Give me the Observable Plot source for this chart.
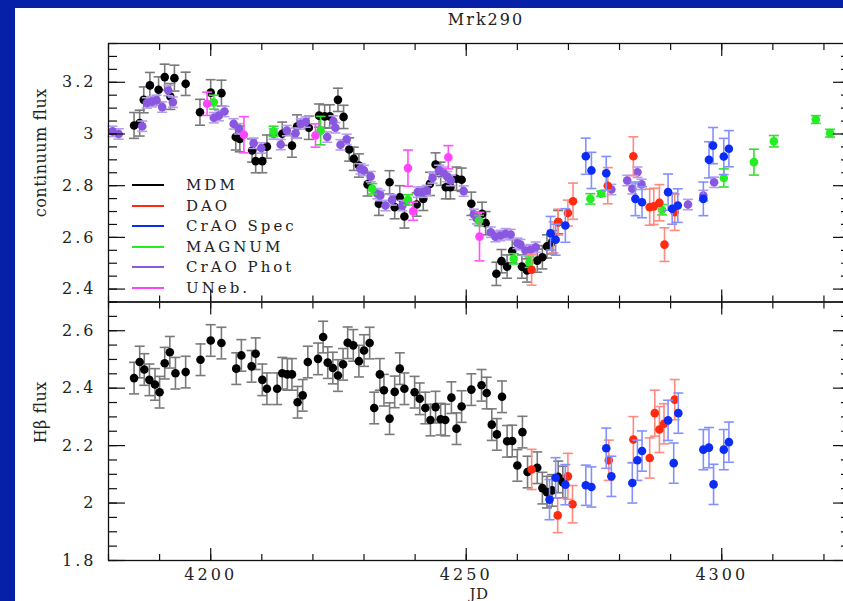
<!DOCTYPE html>
<html><head><meta charset="utf-8">
<script src="https://cdn.jsdelivr.net/npm/d3@7"></script>
<script src="https://cdn.jsdelivr.net/npm/@observablehq/plot@0.6"></script>
<style>
html,body{margin:0;padding:0;overflow:hidden;background:#0620a8;width:843px;height:601px;}
#panel{position:absolute;left:15px;top:8px;width:828px;height:593px;background:#fff;overflow:hidden;}
#panel svg{position:absolute;left:0;}
.t{position:absolute;font-family:"DejaVu Serif",serif;color:#222;white-space:nowrap;}
#title{left:0;width:942px;text-align:center;top:2px;font-size:16px;letter-spacing:2px;}
.leg{position:absolute;font-family:"DejaVu Serif",serif;font-size:15px;letter-spacing:3px;color:#222;white-space:nowrap;line-height:16px;}
.ln{position:absolute;width:32px;height:2px;}
</style></head><body>
<div id="panel"><div id="title" class="t">Mrk290</div></div>
<script>
// ---------- data: [JD, flux, error] ----------
const mdmCont = [[4185.0,3.033,0.05],[4186.1,3.042,0.05],[4186.9,3.132,0.05],[4188.1,3.188,0.05],[4189.8,3.171,0.05],[4191.0,3.22,0.05],[4192.1,3.145,0.05],[4192.9,3.216,0.05],[4195.1,3.194,0.045],[4197.9,3.084,0.05],[4200.0,3.16,0.05],[4202.1,3.158,0.05],[4204.9,2.988,0.05],[4205.7,2.981,0.05],[4208.1,2.936,0.045],[4208.8,2.895,0.045],[4210.1,2.895,0.045],[4211.0,2.951,0.045],[4214.0,3.001,0.045],[4215.9,2.955,0.045],[4216.9,3.029,0.045],[4219.2,3.024,0.045],[4221.2,3.071,0.045],[4222.3,3.068,0.045],[4223.3,3.068,0.045],[4224.9,3.132,0.045],[4226.0,3.066,0.045],[4227.1,2.94,0.045],[4228.0,2.904,0.045],[4229.0,2.878,0.045],[4230.7,2.805,0.045],[4232.9,2.73,0.045],[4235.0,2.813,0.045],[4236.0,2.717,0.045],[4237.0,2.755,0.045],[4237.9,2.681,0.045],[4240.3,2.727,0.045],[4241.6,2.749,0.045],[4242.9,2.807,0.045],[4244.0,2.882,0.045],[4245.0,2.846,0.045],[4246.0,2.794,0.045],[4246.9,2.794,0.045],[4248.1,2.827,0.045],[4249.1,2.823,0.045],[4251.0,2.73,0.045],[4253.1,2.691,0.045],[4253.8,2.655,0.045],[4255.9,2.459,0.045],[4256.9,2.508,0.045],[4258.0,2.487,0.045],[4259.0,2.547,0.045],[4260.9,2.487,0.045],[4261.9,2.472,0.045],[4263.9,2.51,0.045],[4264.9,2.523,0.045],[4265.8,2.565,0.045],[4266.8,2.581,0.045],[4268.0,2.659,0.045]];
const daoCont = [[4262.8,2.475,0.06],[4267.1,2.6,0.06],[4268.0,2.659,0.05],[4269.9,2.694,0.05],[4270.9,2.74,0.07],[4277.7,2.8,0.07],[4282.7,2.914,0.075],[4285.9,2.717,0.07],[4286.7,2.72,0.07],[4287.8,2.734,0.07],[4288.8,2.572,0.065],[4290.8,2.697,0.07]];
const craoSpecCont = [[4266.5,2.616,0.065],[4267.5,2.591,0.06],[4269.4,2.646,0.065],[4273.4,2.914,0.07],[4274.5,2.859,0.07],[4277.4,2.848,0.065],[4283.1,2.749,0.065],[4284.4,2.736,0.06],[4289.5,2.775,0.07],[4290.3,2.711,0.06],[4291.4,2.723,0.065],[4296.4,2.749,0.065],[4297.5,2.9,0.07],[4298.3,2.955,0.07],[4300.4,2.913,0.07],[4301.4,2.943,0.07]];
const magnumCont = [[4200.6,3.123,0.027],[4212.3,3.01,0.02],[4221.5,3.013,0.055],[4231.6,2.788,0.02],[4238.6,2.745,0.02],[4252.5,2.665,0.02],[4259.3,2.517,0.02],[4262.4,2.504,0.02],[4274.3,2.749,0.02],[4276.4,2.769,0.01],[4288.3,2.707,0.02],[4300.4,2.83,0.035],[4306.3,2.891,0.05],[4310.2,2.972,0.022],[4318.4,3.056,0.015],[4321.2,3.003,0.015]];
const craoPhotCont = [[4180.8,3.01,0.02],[4182.0,3.0,0.02],[4186.6,3.03,0.02],[4187.5,3.12,0.02],[4188.5,3.125,0.02],[4189.4,3.13,0.02],[4190.5,3.104,0.02],[4191.7,3.168,0.02],[4192.6,3.123,0.02],[4200.6,3.063,0.02],[4201.6,3.071,0.02],[4202.7,3.087,0.02],[4204.5,3.039,0.02],[4205.5,3.02,0.02],[4208.4,2.964,0.02],[4209.9,2.946,0.02],[4212.3,3.0,0.02],[4213.7,2.959,0.02],[4214.9,3.013,0.02],[4216.6,3.003,0.02],[4217.6,3.039,0.02],[4218.6,3.046,0.02],[4222.8,2.988,0.02],[4224.0,3.05,0.02],[4224.4,3.024,0.02],[4225.4,2.958,0.02],[4226.6,2.979,0.02],[4229.3,2.865,0.02],[4230.0,2.859,0.02],[4231.3,2.835,0.02],[4232.6,2.769,0.02],[4233.2,2.762,0.02],[4234.2,2.723,0.02],[4235.5,2.745,0.02],[4237.5,2.723,0.02],[4240.5,2.775,0.02],[4241.4,2.775,0.02],[4242.3,2.781,0.02],[4243.4,2.83,0.02],[4244.7,2.859,0.02],[4245.5,2.852,0.02],[4246.3,2.835,0.02],[4247.0,2.82,0.02],[4249.5,2.779,0.02],[4251.5,2.689,0.02],[4252.1,2.672,0.02],[4254.8,2.62,0.02],[4255.7,2.603,0.02],[4256.7,2.607,0.02],[4257.7,2.614,0.02],[4258.7,2.611,0.02],[4260.0,2.577,0.02],[4260.6,2.572,0.02],[4261.6,2.549,0.02],[4262.6,2.552,0.02],[4263.6,2.562,0.02],[4278.4,2.785,0.02],[4281.5,2.82,0.02],[4282.5,2.788,0.02],[4283.5,2.852,0.02],[4284.3,2.805,0.02],[4293.4,2.727,0.02],[4296.4,2.762,0.02],[4298.5,2.813,0.02]];
const unebCont = [[4199.3,3.117,0.045],[4206.5,2.997,0.07],[4220.5,2.994,0.045],[4238.6,2.868,0.07],[4239.6,2.701,0.035],[4246.5,2.91,0.045],[4252.6,2.603,0.094]];

const mdmHb = [[4185.0,2.435,0.055],[4186.1,2.491,0.055],[4187.0,2.465,0.055],[4188.0,2.429,0.055],[4189.1,2.413,0.055],[4190.0,2.386,0.055],[4191.0,2.487,0.055],[4192.0,2.525,0.055],[4193.1,2.452,0.055],[4195.1,2.456,0.055],[4198.0,2.499,0.055],[4200.0,2.566,0.055],[4202.1,2.557,0.055],[4205.0,2.468,0.055],[4206.0,2.514,0.055],[4208.0,2.476,0.055],[4208.8,2.52,0.055],[4210.1,2.429,0.055],[4211.0,2.398,0.055],[4213.0,2.398,0.055],[4214.0,2.452,0.055],[4215.0,2.448,0.055],[4215.9,2.448,0.055],[4217.0,2.351,0.055],[4218.0,2.375,0.055],[4219.0,2.491,0.055],[4221.0,2.502,0.055],[4222.0,2.578,0.055],[4222.9,2.489,0.055],[4223.9,2.47,0.055],[4224.9,2.444,0.055],[4225.9,2.483,0.055],[4226.8,2.558,0.055],[4227.9,2.549,0.055],[4229.0,2.494,0.055],[4230.0,2.531,0.055],[4231.1,2.557,0.055],[4232.0,2.331,0.055],[4233.1,2.448,0.055],[4233.9,2.393,0.055],[4235.0,2.294,0.055],[4236.0,2.387,0.055],[4237.0,2.468,0.055],[4237.9,2.398,0.055],[4239.9,2.386,0.055],[4240.9,2.363,0.055],[4242.0,2.331,0.055],[4243.0,2.289,0.055],[4244.0,2.334,0.055],[4245.0,2.292,0.055],[4245.9,2.289,0.055],[4247.1,2.367,0.055],[4248.1,2.259,0.055],[4249.1,2.336,0.055],[4251.0,2.395,0.055],[4253.0,2.41,0.055],[4254.0,2.383,0.055],[4255.0,2.273,0.055],[4256.0,2.239,0.055],[4257.0,2.37,0.055],[4258.0,2.215,0.055],[4259.0,2.216,0.055],[4260.0,2.131,0.055],[4261.0,2.247,0.055],[4262.0,2.108,0.055],[4263.9,2.123,0.055],[4264.9,2.052,0.055],[4265.8,2.038,0.055],[4266.8,2.044,0.055],[4268.0,2.091,0.055],[4268.9,2.073,0.055]];
const daoHb = [[4262.8,2.117,0.07],[4267.9,1.957,0.06],[4269.9,2.093,0.08],[4270.8,1.996,0.065],[4277.9,2.149,0.07],[4282.7,2.221,0.08],[4285.9,2.157,0.07],[4286.9,2.313,0.08],[4287.8,2.256,0.08],[4288.7,2.276,0.07],[4290.8,2.36,0.07]];
const craoSpecHb = [[4266.3,2.012,0.07],[4267.5,2.088,0.07],[4269.4,2.064,0.07],[4273.4,2.062,0.07],[4274.5,2.056,0.07],[4277.4,2.191,0.07],[4278.4,2.093,0.07],[4282.5,2.07,0.07],[4283.5,2.149,0.07],[4284.4,2.181,0.07],[4289.5,2.288,0.07],[4290.6,2.139,0.07],[4291.5,2.313,0.07],[4296.4,2.186,0.07],[4297.5,2.193,0.07],[4298.4,2.065,0.07],[4300.4,2.186,0.07],[4301.4,2.212,0.07]];

const legendNames = ["MDM","DAO","CrAO Spec","MAGNUM","CrAO Phot","UNeb."];
const xMajorTicks = [4200, 4250, 4300];
const contMajorTicks = [2.4, 2.6, 2.8, 3.0, 3.2];
const hbMajorTicks = [1.8, 2.0, 2.2, 2.4, 2.6];

// ---------- styling ----------
const col = {MDM:"#000000", DAO:"#ff2a10", "CrAO Spec":"#0a2cf5", MAGNUM:"#22ee22", "CrAO Phot":"#8a58e0", "UNeb.":"#ff44ff"};
const barCol = {MDM:"#7a7a7a", DAO:"#ff8a80", "CrAO Spec":"#8490ff", MAGNUM:"#30e030", "CrAO Phot":"#b49cf0", "UNeb.":"#ff50ff"};
const fontFam = "DejaVu Serif";
const xDomain = [4180, 4325];
const xMinor = d3.range(4180, 4326, 10);

const cap = {draw(ctx, size){ const w = Math.sqrt(size/Math.PI); ctx.moveTo(-w,0); ctx.lineTo(w,0); }};
function series(rows, name){
  const bc = barCol[name];
  return [
    Plot.ruleX(rows, {x: d=>d[0], y1: d=>d[1]-d[2], y2: d=>d[1]+d[2], stroke: bc, strokeWidth: 1.6}),
    Plot.dot(rows, {x: d=>d[0], y: d=>d[1]-d[2], symbol: cap, r: 5, fill: "none", stroke: bc, strokeWidth: 1.6}),
    Plot.dot(rows, {x: d=>d[0], y: d=>d[1]+d[2], symbol: cap, r: 5, fill: "none", stroke: bc, strokeWidth: 1.6}),
    Plot.dot(rows, {x: d=>d[0], y: d=>d[1], r: 4.3, fill: col[name], stroke: "none"})
  ];
}
const blank = () => "";
function ticks(yMajor, yMinor){
  const s = {stroke:"#111", strokeWidth:1.2};
  return [
    Plot.axisX({anchor:"bottom", ticks:xMajorTicks, tickSize:12, dy:-12, tickFormat:blank, label:null, ...s}),
    Plot.axisX({anchor:"bottom", ticks:xMinor, tickSize:6, dy:-6, tickFormat:blank, label:null, ...s}),
    Plot.axisX({anchor:"top", ticks:xMajorTicks, tickSize:12, dy:12, tickFormat:blank, label:null, ...s}),
    Plot.axisX({anchor:"top", ticks:xMinor, tickSize:6, dy:6, tickFormat:blank, label:null, ...s}),
    Plot.axisY({anchor:"left", ticks:yMajor, tickSize:17, dx:17, tickFormat:blank, label:null, ...s}),
    Plot.axisY({anchor:"left", ticks:yMinor, tickSize:9, dx:9, tickFormat:blank, label:null, ...s}),
    Plot.axisY({anchor:"right", ticks:yMajor, tickSize:17, dx:-17, tickFormat:blank, label:null, ...s}),
    Plot.axisY({anchor:"right", ticks:yMinor, tickSize:9, dx:-9, tickFormat:blank, label:null, ...s}),
    Plot.axisY({anchor:"left", ticks:yMajor, tickSize:0, tickPadding:12, label:null, tickFormat: d => String(d), fill:"#222"}),
    Plot.frame({stroke:"#111", strokeWidth:1.3})
  ];
}
const svgStyle = {fontFamily: fontFam, fontSize:"16px", letterSpacing:"3px", background:"transparent", maxWidth:"none", overflow:"visible"};

const topPlot = Plot.plot({
  width: 850, height: 300,
  marginLeft: 93, marginRight: 16, marginTop: 35, marginBottom: 6.5,
  style: svgStyle,
  x: {domain: xDomain, axis: null},
  y: {domain: [2.35, 3.35], axis: null},
  marks: [
    ...series(mdmCont, "MDM"),
    ...series(craoPhotCont, "CrAO Phot"),
    ...series(magnumCont, "MAGNUM"),
    ...series(daoCont, "DAO"),
    ...series(craoSpecCont, "CrAO Spec"),
    ...series(unebCont, "UNeb."),
    ...ticks(contMajorTicks, d3.range(2.35, 3.351, 0.05)),
    Plot.text(["continuum flux"], {frameAnchor:"left", textAnchor:"middle", dx:-68, dy:-20, rotate:-90, fontSize:16, fill:"#222"})
  ]
});
topPlot.style.top = "0px";

const bottomPlot = Plot.plot({
  width: 850, height: 320,
  marginLeft: 93, marginRight: 16, marginTop: 13.5, marginBottom: 48,
  style: svgStyle,
  x: {domain: xDomain, axis: null},
  y: {domain: [1.8, 2.7], axis: null},
  marks: [
    ...series(mdmHb, "MDM"),
    ...series(daoHb, "DAO"),
    ...series(craoSpecHb, "CrAO Spec"),
    ...ticks(hbMajorTicks, d3.range(1.8, 2.701, 0.05)),
    Plot.axisX({anchor:"bottom", ticks:xMajorTicks, tickSize:0, tickPadding:8, label:null, tickFormat: d => String(d), fill:"#222"}),
    Plot.text(["JD"], {frameAnchor:"bottom", dy:38, fontSize:15, fill:"#222"}),
    Plot.text(["H\u03b2 flux"], {frameAnchor:"left", textAnchor:"middle", dx:-68, dy:-19, rotate:-90, fontSize:16, fill:"#222"})
  ]
});
bottomPlot.style.top = "280px";

const panel = document.getElementById("panel");
panel.appendChild(topPlot);
panel.appendChild(bottomPlot);
// axis titles without the wide tick-label letter spacing
panel.querySelectorAll("svg text").forEach(t => {
  if (t.textContent === "continuum flux" || t.textContent === "H\u03b2 flux" || t.textContent === "JD") t.style.letterSpacing = "0.5px";
});

// legend (panel coordinates = page - (15, 8))
legendNames.forEach((name, i) => {
  const cy = 185 + i * 20.6 - 8;
  const ln = document.createElement("div");
  ln.className = "ln";
  ln.style.left = (132 - 15) + "px";
  ln.style.top = (cy - 1) + "px";
  ln.style.backgroundColor = col[name];
  panel.appendChild(ln);
  const tx = document.createElement("div");
  tx.className = "leg";
  tx.textContent = name;
  tx.style.left = (186 - 15) + "px";
  tx.style.top = (cy - 8) + "px";
  panel.appendChild(tx);
});
</script>
</body></html>
